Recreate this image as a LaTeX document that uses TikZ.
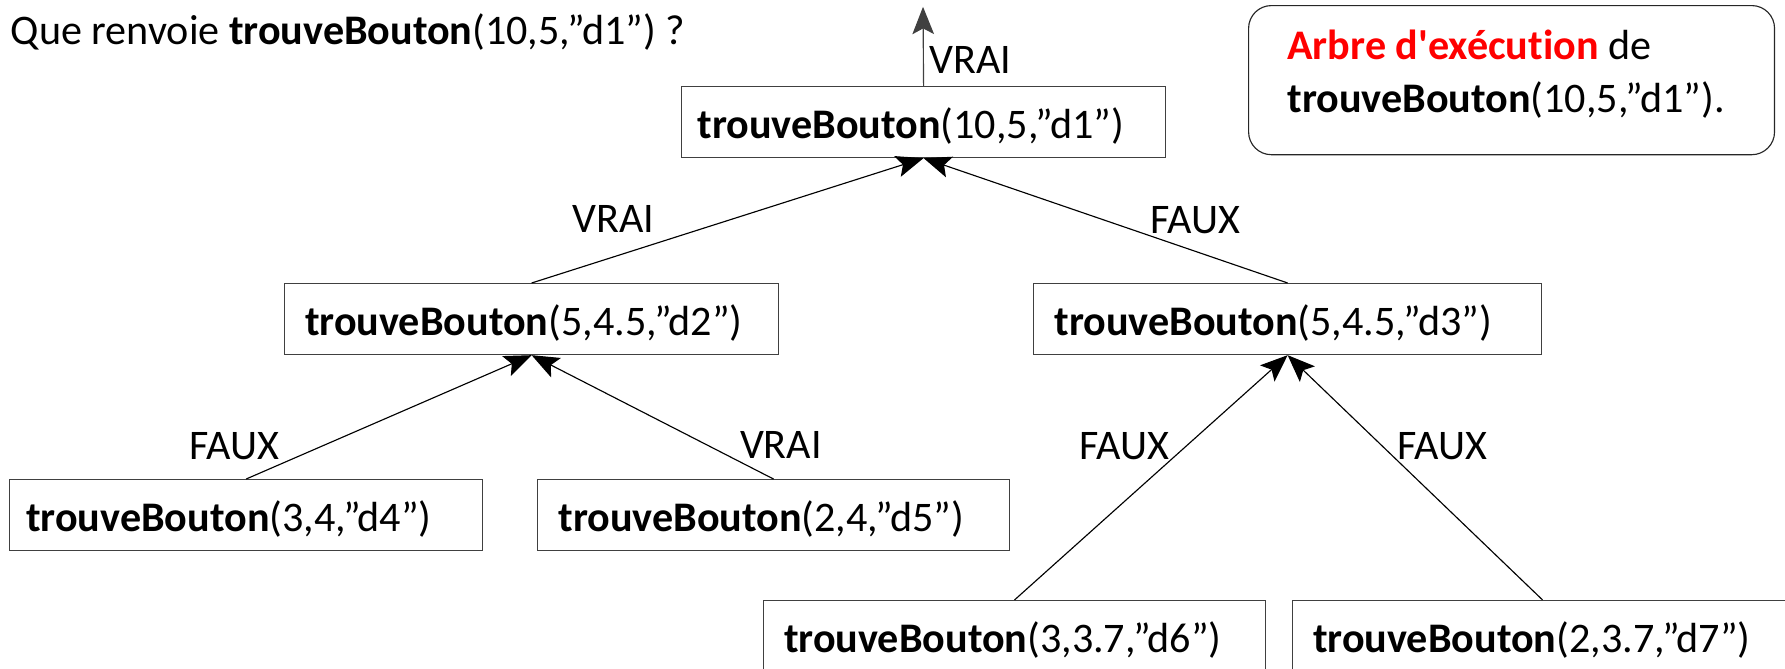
\documentclass[tikz,border=0pt]{standalone}
\usepackage{fontspec}
\setmainfont{Carlito}[Ligatures={TeXOff,NoCommon}]
\usetikzlibrary{arrows.meta}
\begin{document}
\begin{tikzpicture}[x=0.5pt,y=-0.5pt,
  every node/.style={font=\fontsize{18.5}{22}\selectfont, text=black},
  box/.style={draw=black!75, line width=0.5pt, anchor=north west, inner ysep=0pt,
              minimum height=31.2pt, text height=16.5pt, text depth=2pt, align=left},
  lbl/.style={inner sep=0pt},
  edge/.style={draw=black, line width=0.5pt, -{Stealth[length=12pt,width=9.5pt,inset=2.5pt]}},
  legendbox/.style={draw=black!85, line width=0.5pt, rounded corners=10pt, anchor=north west,
              inner sep=0pt, minimum width=231pt, minimum height=65.5pt}]
\useasboundingbox (0,0) rectangle (1568,587);
% title
\node[lbl, anchor=base west] (title) at (9,38.7) {Que renvoie \textbf{trouveBouton}(10,5,”d1”) ?};
% legend
\node[legendbox] (legend) at (1096.3,4.4) {};
\node[lbl, anchor=base west] (leg1) at ([shift={(17.1pt,-23.8pt)}]legend.north west)
  {\textcolor{red}{\textbf{Arbre d'exécution}} de};
\node[lbl, anchor=base west] (leg2) at ([shift={(17.1pt,-47.3pt)}]legend.north west)
  {\textbf{trouveBouton}(10,5,”d1”).};
% boxes
\node[box, inner xsep=7pt,   text width=198.6pt] (d1) at (598.2,75.5)  {\textbf{trouveBouton}(10,5,”d1”)};
\node[box, inner xsep=9pt,   text width=199pt]   (d2) at (249.5,248.6) {\textbf{trouveBouton}(5,4.5,”d2”)};
\node[box, inner xsep=9.2pt, text width=204.8pt] (d3) at (907.4,248.6) {\textbf{trouveBouton}(5,4.5,”d3”)};
\node[box, inner xsep=7.3pt, text width=193.2pt] (d4) at (7.9,420.8)   {\textbf{trouveBouton}(3,4,”d4”)};
\node[box, inner xsep=9.2pt, text width=188.9pt] (d5) at (471.7,420.8) {\textbf{trouveBouton}(2,4,”d5”)};
\node[box, inner xsep=9pt,   text width=202.5pt] (d6) at (670.2,527)   {\textbf{trouveBouton}(3,3.7,”d6”)};
\node[box, inner xsep=9pt,   text width=201.6pt] (d7) at (1134.9,527)  {\textbf{trouveBouton}(2,3.7,”d7”)};
% top arrow
\coordinate (top) at (810.8,6);
\draw[edge, draw=black!75] (d1.north) -- (top);
\node[lbl, anchor=west] (l0) at (816,52.7) {VRAI};
% edges
\draw[edge] (d2.north) -- (d1.south);
\draw[edge] (d3.north) -- (d1.south);
\draw[edge] (d4.north) -- (d2.south);
\draw[edge] (d5.north) -- (d2.south);
\draw[edge] (d6.north) -- (d3.south);
\draw[edge] (d7.north) -- (d3.south);
% labels
\node[lbl] (l1) at (539,192) {VRAI};
\node[lbl] (l2) at (1050,193) {FAUX};
\node[lbl] (l3) at (206,392) {FAUX};
\node[lbl] (l4) at (686,391) {VRAI};
\node[lbl] (l5) at (988,392) {FAUX};
\node[lbl] (l6) at (1267,392) {FAUX};
\end{tikzpicture}
\end{document}
